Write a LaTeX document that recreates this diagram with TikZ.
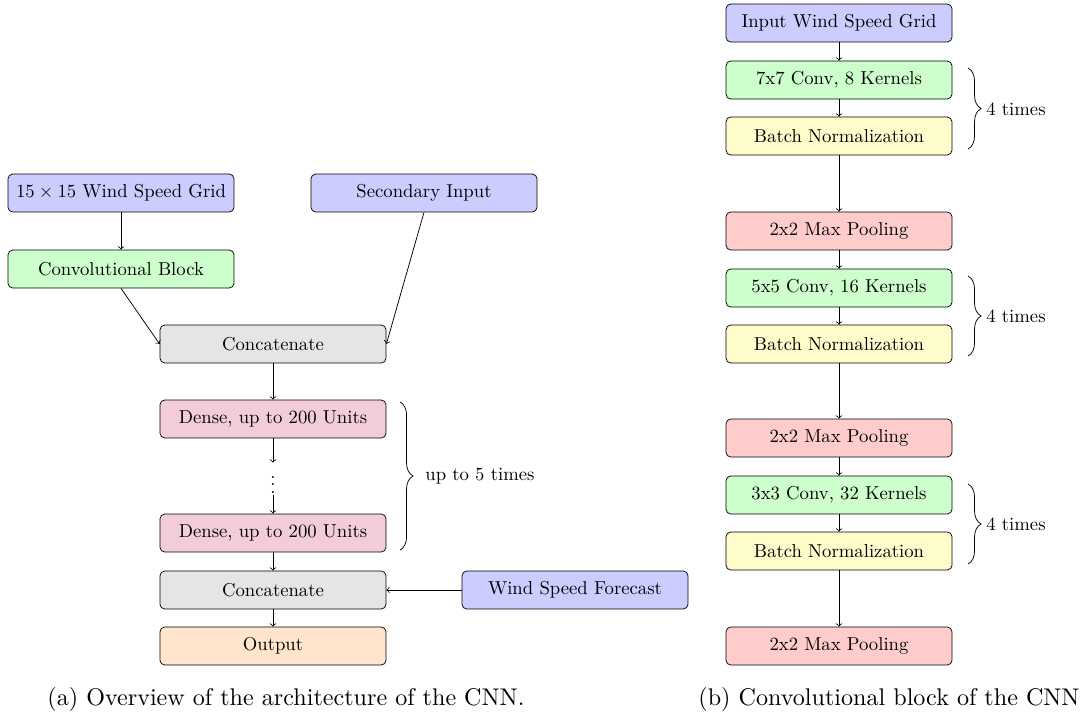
\documentclass[tikz,border=0pt]{standalone}
\usetikzlibrary{decorations.pathreplacing}
\begin{document}
\begin{tikzpicture}[x=0.535pt,y=-0.535pt,
  blk/.style={draw=black, rounded corners=2.5pt, minimum width=120.9pt, minimum height=20.3pt, inner sep=0pt},
  inbox/.style={blk, fill=blue!20},
  convbox/.style={blk, fill=green!20},
  bnbox/.style={blk, fill=yellow!20},
  poolbox/.style={blk, fill=red!20},
  densebox/.style={blk, fill=purple!20},
  catbox/.style={blk, fill=gray!20},
  outbox/.style={blk, fill=orange!20},
  conn/.style={->},
  bracestyle/.style={decorate, decoration={brace, amplitude=7pt}},
  lbl/.style={anchor=west, inner sep=0pt},
  captext/.style={inner sep=0pt, scale=1.29}
]
\useasboundingbox (0,0) rectangle (1085,711);

% ---------- left: overview ----------
\node[inbox] (grid) at (121,193) {$15\times15$ Wind Speed Grid};
\node[inbox] (sec) at (424,193) {Secondary Input};
\node[convbox] (cblock) at (121,269) {Convolutional Block};
\node[catbox] (cat1) at (273,344) {Concatenate};
\node[densebox] (dense1) at (273,419) {Dense, up to 200 Units};
\node[inner sep=1pt] (dots) at (273,479) {$\vdots$};
\node[densebox] (dense2) at (273,533) {Dense, up to 200 Units};
\node[catbox] (cat2) at (273,590) {Concatenate};
\node[inbox] (fc) at (575,590) {Wind Speed Forecast};
\node[outbox] (out) at (273,646) {Output};

\draw[conn] (grid) -- (cblock);
\draw[conn] (cblock.south) -- (cat1.west);
\draw[conn] (sec.south) -- (cat1.east);
\draw[conn] (cat1) -- (dense1);
\draw[conn] (dense1) -- (dots);
\draw[conn] (dots) -- (dense2);
\draw[conn] (dense2) -- (cat2);
\draw[conn] (fc) -- (cat2);
\draw[conn] (cat2) -- (out);

\draw[bracestyle] (400,402) -- (400,550);
\node[lbl] (b1l) at (425,476) {up to 5 times};

\node[captext] (capa) at (286,699) {(a) Overview of the architecture of the CNN.};

% ---------- right: convolutional block ----------
\node[inbox] (rin) at (839,23) {Input Wind Speed Grid};
\node[convbox] (c1) at (839,80) {7x7 Conv, 8 Kernels};
\node[bnbox] (n1) at (839,136) {Batch Normalization};
\node[poolbox] (p1) at (839,231) {2x2 Max Pooling};
\node[convbox] (c2) at (839,288) {5x5 Conv, 16 Kernels};
\node[bnbox] (n2) at (839,344) {Batch Normalization};
\node[poolbox] (p2) at (839,438) {2x2 Max Pooling};
\node[convbox] (c3) at (839,495) {3x3 Conv, 32 Kernels};
\node[bnbox] (n3) at (839,551) {Batch Normalization};
\node[poolbox] (p3) at (839,646) {2x2 Max Pooling};

\draw[conn] (rin) -- (c1);
\draw[conn] (c1) -- (n1);
\draw[conn] (n1) -- (p1);
\draw[conn] (p1) -- (c2);
\draw[conn] (c2) -- (n2);
\draw[conn] (n2) -- (p2);
\draw[conn] (p2) -- (c3);
\draw[conn] (c3) -- (n3);
\draw[conn] (n3) -- (p3);

\draw[bracestyle] (968,68) -- (968,149);
\node[lbl] (t1) at (986,109) {4 times};
\draw[bracestyle] (968,276) -- (968,356);
\node[lbl] (t2) at (986,316) {4 times};
\draw[bracestyle] (968,484) -- (968,564);
\node[lbl] (t3) at (986,524) {4 times};

\node[captext] (capb) at (889,699) {(b) Convolutional block of the CNN};
\end{tikzpicture}
\end{document}
